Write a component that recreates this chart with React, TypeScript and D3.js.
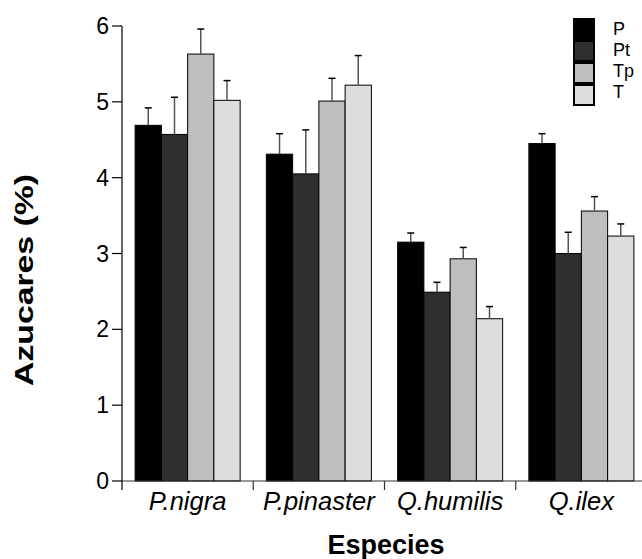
import React from "react";
import * as d3 from "d3";

const categories = ["P.nigra", "P.pinaster", "Q.humilis", "Q.ilex"];
const seriesNames = ["P", "Pt", "Tp", "T"];
const seriesColors = ["#000000", "#2f2f2f", "#bebebe", "#dcdedd"];
const valuesP = [4.69, 4.31, 3.15, 4.45];
const valuesPt = [4.57, 4.05, 2.49, 3.0];
const valuesTp = [5.63, 5.01, 2.93, 3.56];
const valuesT = [5.02, 5.22, 2.14, 3.23];
const errP = [0.23, 0.27, 0.12, 0.13];
const errPt = [0.49, 0.58, 0.13, 0.28];
const errTp = [0.33, 0.3, 0.15, 0.19];
const errT = [0.26, 0.39, 0.16, 0.16];
const yTicks = [0, 1, 2, 3, 4, 5, 6];

const W = 642;
const H = 559;
const left = 122;
const right = 647;
const top = 26;
const bottom = 481;
const font = "'Liberation Sans', Arial, sans-serif";
const legendLabelDy = [15.5, 14.5, 13.5, 13];

export default function App() {
  const values = [valuesP, valuesPt, valuesTp, valuesT];
  const errs = [errP, errPt, errTp, errT];
  const y = d3.scaleLinear().domain([0, 6]).range([bottom, top]);
  const x0 = d3.scaleBand().domain(categories).range([left, right]).paddingInner(0).paddingOuter(0);
  const x1 = d3
    .scaleBand()
    .domain(seriesNames)
    .range([x0.bandwidth() * 0.1, x0.bandwidth() * 0.9])
    .padding(0);

  return (
    <div style={{ position: "absolute", left: 0, top: 0 }}>
      <svg width={W} height={H} style={{ display: "block", background: "#fff" }}>
        {/* bars */}
        {categories.map((c, ci) => (
          <g key={c} transform={`translate(${x0(c)},0)`}>
            {seriesNames.map((s, si) => {
              const v = values[si][ci];
              const e = errs[si][ci];
              const bx = x1(s)!;
              const bw = x1.bandwidth();
              const cx = bx + bw / 2;
              return (
                <g key={s}>
                  <rect
                    x={bx}
                    y={y(v)}
                    width={bw}
                    height={y(0) - y(v)}
                    fill={seriesColors[si]}
                    stroke="#000"
                    strokeWidth={1}
                  />
                  <line x1={cx} x2={cx} y1={y(v)} y2={y(v + e)} stroke="#555" strokeWidth={1.5} />
                  <line x1={cx - 3.5} x2={cx + 3.5} y1={y(v + e)} y2={y(v + e)} stroke="#000" strokeWidth={1.5} />
                </g>
              );
            })}
          </g>
        ))}

        {/* x axis */}
        <line x1={left} x2={right} y1={bottom} y2={bottom} stroke="#333" strokeWidth={1.2} />
        {categories.slice(1).map((c) => (
          <line key={c} x1={x0(c)} x2={x0(c)} y1={bottom} y2={bottom + 9} stroke="#333" strokeWidth={1.2} />
        ))}
        {categories.map((c) => (
          <text
            key={c}
            x={x0(c)! + x0.bandwidth() / 2}
            y={510}
            textAnchor="middle"
            fontFamily={font}
            fontStyle="italic"
            fontSize={25.5}
            fill="#000"
          >
            {c}
          </text>
        ))}

        {/* y axis */}
        <line x1={left} x2={left} y1={top} y2={bottom + 9} stroke="#000" strokeWidth={1.2} />
        {yTicks.map((t) => (
          <g key={t}>
            <line x1={left - 10} x2={left} y1={y(t)} y2={y(t)} stroke="#000" strokeWidth={1.2} />
            <text x={109} y={y(t) + 8} textAnchor="end" fontFamily={font} fontSize={23} fill="#000">
              {t}
            </text>
          </g>
        ))}

        {/* titles */}
        <text x={386} y={554} textAnchor="middle" fontFamily={font} fontWeight="bold" fontSize={27} fill="#000">
          Especies
        </text>
        <text
          transform={`translate(33,280) rotate(-90)`}
          textAnchor="middle"
          fontFamily={font}
          fontWeight="bold"
          fontSize={26}
          textLength={212}
          lengthAdjust="spacingAndGlyphs"
          fill="#000"
        >
          Azucares (%)
        </text>

        {/* legend */}
        {seriesNames.map((s, i) => (
          <g key={s}>
            <rect
              x={574}
              y={19 + i * 22}
              width={20}
              height={20}
              fill={seriesColors[i]}
              stroke="#000"
              strokeWidth={2}
            />
            <text x={613} y={19 + i * 22 + legendLabelDy[i]} fontFamily={font} fontSize={18} fill="#000">
              {s}
            </text>
          </g>
        ))}
      </svg>
    </div>
  );
}
